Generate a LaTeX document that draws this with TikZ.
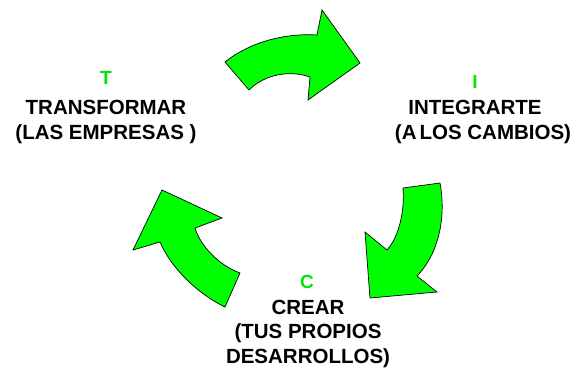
\documentclass[tikz,border=0pt]{standalone}
\usepackage{fontspec}
\setmainfont{Liberation Sans}
\definecolor{arrowgreen}{RGB}{0,255,0}
\definecolor{lettergreen}{RGB}{0,230,0}
\begin{document}
\begin{tikzpicture}[x=1pt,y=-1pt,
  arrowshape/.style={fill=arrowgreen,draw=black,line width=0.7pt,line join=miter},
  lettertxt/.style={anchor=base,text=lettergreen,font=\fontsize{19}{24}\selectfont\bfseries,inner sep=0pt},
  wordtxt/.style={anchor=base,align=center,font=\fontsize{20.5}{24.5}\selectfont\bfseries,inner sep=0pt}]
\useasboundingbox (0,0) rectangle (574,372);
% top arrow (T -> I)
\path[arrowshape] (225,62) .. controls (250,42) and (285,33) .. (317,35)
  -- (322,10) -- (360,63) -- (308,100) -- (310,77)
  .. controls (290,70) and (265,74) .. (249,90) -- cycle;
% right arrow (I -> C)
\path[arrowshape] (403,188) -- (440,183)
  .. controls (446,215) and (440,252) .. (417,276)
  -- (437,292) -- (370,298) -- (365,232) -- (387,250)
  .. controls (399,237) and (405,210) .. cycle;
% left arrow (C -> T)
\path[arrowshape] (240,273) -- (225,307)
  .. controls (200,295) and (172,270) .. (160,242)
  -- (133,250) -- (162,190) -- (222,218) -- (195,228)
  .. controls (200,245) and (218,265) .. cycle;
% texts
\node[lettertxt] (lt) at (106,84) {T};
\node[wordtxt] (wt) at (106,139) {TRANSFORMAR\\(LAS EMPRESAS )};
\node[lettertxt] (li) at (475,88) {I};
\node[wordtxt] (wi) at (483,139) {INTEGRARTE\hspace*{16pt}\\(A\hspace{3pt}LOS CAMBIOS)};
\node[lettertxt] (lc) at (307,288) {C};
\node[wordtxt] (wc) at (308,363) {CREAR\\(TUS PROPIOS\\DESARROLLOS)};
\end{tikzpicture}
\end{document}
